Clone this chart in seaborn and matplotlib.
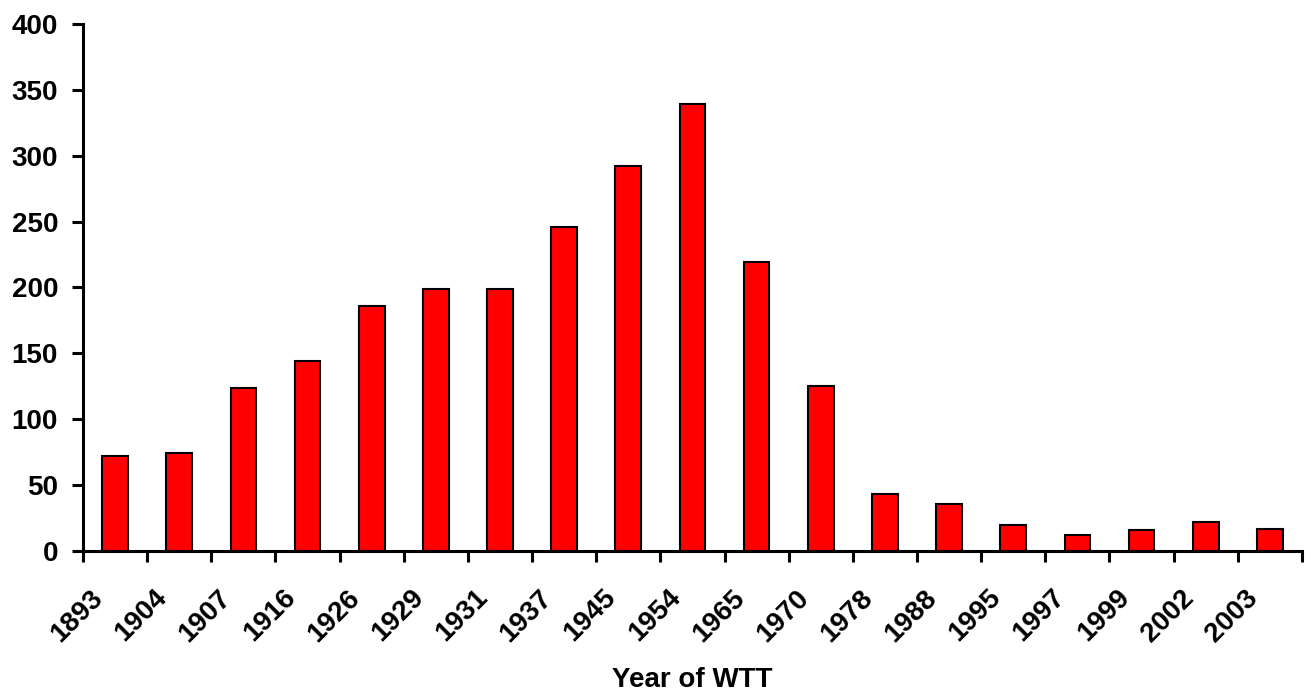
import numpy as np
import pandas as pd
import matplotlib
matplotlib.use("Agg")
import matplotlib.pyplot as plt
import matplotlib.transforms as mtrans
import seaborn as sns

years = ["1893", "1904", "1907", "1916", "1926", "1929", "1931", "1937", "1945", "1954",
         "1965", "1970", "1978", "1988", "1995", "1997", "1999", "2002", "2003"]
counts = [72, 74, 124, 144, 186, 199, 199, 246, 292, 339,
          219, 125, 43, 36, 20, 12, 16, 22, 17]

df = pd.DataFrame({"year": years, "count": counts})

sns.set_style("white")
plt.rcParams['font.family'] = ['Liberation Sans', 'DejaVu Sans']
plt.rcParams['font.weight'] = 'bold'
plt.rcParams['text.color'] = 'black'
plt.rcParams['axes.labelcolor'] = 'black'
plt.rcParams['xtick.color'] = 'black'
plt.rcParams['ytick.color'] = 'black'

fig = plt.figure(figsize=(13.12, 6.93), dpi=100)
ax = fig.add_axes([0.0633, 0.205, 0.929, 0.7605])

sns.barplot(data=df, x="year", y="count", color="#ff0000", width=0.4,
            edgecolor="black", linewidth=1.5, saturation=1, ax=ax)

ax.set_ylim(0, 400)
ax.set_xlim(-0.5, len(years) - 0.5)
ax.set_yticks(range(0, 401, 50))

for s in ["top", "right"]:
    ax.spines[s].set_visible(False)
for s in ["left", "bottom"]:
    ax.spines[s].set_linewidth(2.2)
    ax.spines[s].set_color("black")

# tick marks sit between categories, like the original
ax.set_xticks(range(len(years)))
ax.set_xticks(np.arange(-0.5, len(years), 1.0), minor=True)
ax.tick_params(axis="x", which="major", bottom=True, length=0, pad=0)
ax.tick_params(axis="x", which="minor", bottom=True, length=8, width=2.2, direction="out")
ax.tick_params(axis="y", left=True, length=8, width=2.2, direction="out", pad=10)

ax.set_xticklabels(years, rotation=45, ha="right", va="center", rotation_mode="anchor",
                   fontsize=20, fontweight="bold")
shift = mtrans.ScaledTranslation(-0.16, -0.43, fig.dpi_scale_trans)
for t in ax.get_xticklabels():
    t.set_transform(t.get_transform() + shift)
for t in ax.get_yticklabels():
    t.set_fontweight("bold")
    t.set_fontsize(20)

ax.set_ylabel("")
ax.set_xlabel("Year of WTT", fontsize=20, fontweight="bold", labelpad=0)
ax.xaxis.set_label_coords(0.5, -0.22)

fig.savefig("out.png", dpi=100)
